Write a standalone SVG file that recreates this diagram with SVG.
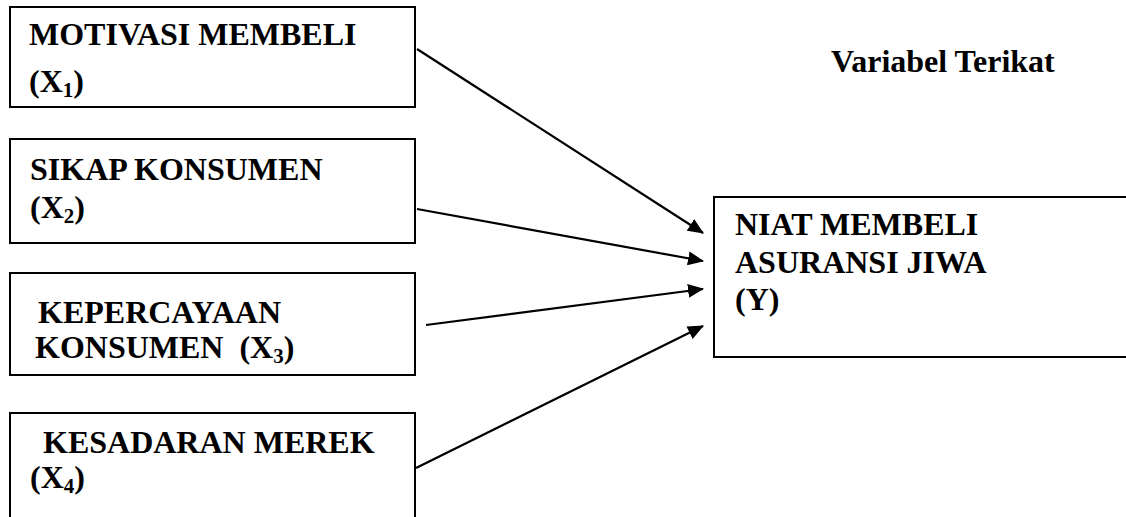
<svg xmlns="http://www.w3.org/2000/svg" width="1126" height="517" viewBox="0 0 1126 517">
<style>
.box{fill:#fff;stroke:#000;stroke-width:2}
.t{font-family:"Liberation Serif","Times New Roman",serif;font-weight:bold;font-size:32px;fill:#000;white-space:pre}
.sub{font-size:21px}
.c{stroke:#000;stroke-width:2.2;fill:none}
</style>
<defs>
<marker id="ah" markerWidth="16" markerHeight="14" refX="15" refY="7" orient="auto" markerUnits="userSpaceOnUse">
<path d="M0,0 L16,7 L0,14 Z" fill="#000"/>
</marker>
</defs>
<rect width="1126" height="517" fill="#fff"/>
<text class="t" x="831" y="72">Variabel Terikat</text>
<g id="x1">
<rect class="box" x="10" y="7" width="405" height="100"/>
<text class="t" x="29" y="45">MOTIVASI MEMBELI</text>
<text class="t" x="29" y="92">(X<tspan class="sub" dy="5">1</tspan><tspan dy="-5">)</tspan></text>
</g>
<g id="x2">
<rect class="box" x="10" y="139" width="405" height="104"/>
<text class="t" x="30" y="180">SIKAP KONSUMEN</text>
<text class="t" x="30" y="218">(X<tspan class="sub" dy="5">2</tspan><tspan dy="-5">)</tspan></text>
</g>
<g id="x3">
<rect class="box" x="10" y="273" width="405" height="102"/>
<text class="t" x="38" y="323">KEPERCAYAAN</text>
<text class="t" x="35" y="358" xml:space="preserve">KONSUMEN  (X<tspan class="sub" dy="5">3</tspan><tspan dy="-5">)</tspan></text>
</g>
<g id="x4">
<rect class="box" x="10" y="413" width="405" height="120"/>
<text class="t" x="43" y="453">KESADARAN MEREK</text>
<text class="t" x="30" y="488">(X<tspan class="sub" dy="5">4</tspan><tspan dy="-5">)</tspan></text>
</g>
<g id="y">
<rect class="box" x="714" y="197" width="430" height="160"/>
<text class="t" x="735" y="235">NIAT MEMBELI</text>
<text class="t" x="735" y="273">ASURANSI JIWA</text>
<text class="t" x="735" y="310">(Y)</text>
</g>
<g id="connectors">
<line class="c" x1="417" y1="49" x2="703" y2="233" marker-end="url(#ah)"/>
<line class="c" x1="417" y1="209" x2="703" y2="261" marker-end="url(#ah)"/>
<line class="c" x1="426" y1="325" x2="703" y2="289" marker-end="url(#ah)"/>
<line class="c" x1="416" y1="468" x2="703" y2="326" marker-end="url(#ah)"/>
</g>
</svg>
